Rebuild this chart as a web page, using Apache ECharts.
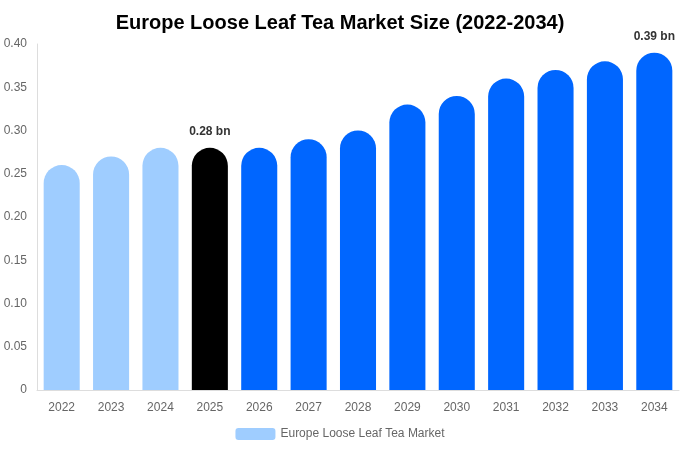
<!DOCTYPE html>
<html><head><meta charset="utf-8">
<script src="https://cdn.jsdelivr.net/npm/echarts@6/dist/echarts.min.js"></script>
<style>html,body{margin:0;padding:0;background:#fff}#c{width:680px;height:450px}</style>
</head><body><div id="c"></div>
<script>
const categories = ['2022','2023','2024','2025','2026','2027','2028','2029','2030','2031','2032','2033','2034'];
const values = [0.26,0.27,0.28,0.28,0.28,0.29,0.30,0.33,0.34,0.36,0.37,0.38,0.39];
const barColors = ['#9fcdff','#9fcdff','#9fcdff','#000000','#0066ff','#0066ff','#0066ff','#0066ff','#0066ff','#0066ff','#0066ff','#0066ff','#0066ff'];
const labelled = ['2025','2034'];
const yTicks = [0,0.05,0.10,0.15,0.20,0.25,0.30,0.35,0.40];
const seriesName = 'Europe Loose Leaf Tea Market';

const chart = echarts.init(document.getElementById('c'));
chart.setOption({
  animation:false,
  title:{text:'Europe Loose Leaf Tea Market Size (2022-2034)',left:'center',top:8,
    textStyle:{fontFamily:'Liberation Sans, Arial, sans-serif',fontSize:20,fontWeight:'bold',color:'#000'}},
  legend:{bottom:5,left:'center',itemWidth:40,itemHeight:12,itemGap:6,
    textStyle:{fontFamily:'Liberation Sans, Arial, sans-serif',fontSize:12,color:'#666'},
    data:[{name:seriesName,itemStyle:{color:'#9fcdff'}}]},
  grid:{left:37,right:1,top:44,bottom:60,containLabel:false},
  xAxis:{type:'category',data:categories,
    axisLine:{lineStyle:{color:'#ddd'}},axisTick:{show:false},
    axisLabel:{color:'#666',fontFamily:'Liberation Sans, Arial, sans-serif',fontSize:12,margin:12}},
  yAxis:{type:'value',min:0,max:0.4,interval:0.05,
    axisLine:{show:true,lineStyle:{color:'#ddd'}},axisTick:{show:false},splitLine:{show:false},
    axisLabel:{color:'#666',fontFamily:'Liberation Sans, Arial, sans-serif',fontSize:12,margin:10,
      formatter:v=>{const t=yTicks.find(x=>Math.abs(x-v)<1e-9);return v===0?'0':(t!==undefined?t:v).toFixed(2);}}},
  series:[{name:seriesName,type:'bar',barWidth:'73%',
    data:values.map((v,i)=>({value:v,itemStyle:{color:barColors[i],borderRadius:[18,18,0,0]},
      label:{show:labelled.includes(categories[i])}})),
    label:{position:'top',distance:10,formatter:p=>p.value.toFixed(2)+' bn',
      fontFamily:'Liberation Sans, Arial, sans-serif',fontSize:12,fontWeight:'bold',color:'#333'}}]
});
</script></body></html>
